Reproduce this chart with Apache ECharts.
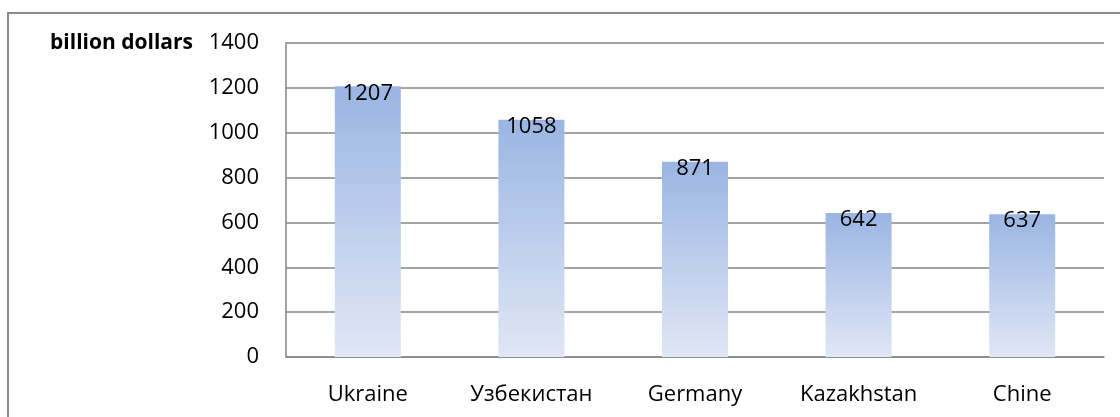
<!DOCTYPE html>
<html>
<head>
<meta charset="utf-8">
<script src="https://cdn.jsdelivr.net/npm/echarts@6/dist/echarts.min.js"></script>
<style>
html,body{margin:0;padding:0;background:#fff;}
#chart{width:1120px;height:417px;}
</style>
</head>
<body>
<div id="chart"></div>
<script>
const categories = ['Ukraine', 'Узбекистан', 'Germany', 'Kazakhstan', 'Chine'];
const values = [1207, 1058, 871, 642, 637];
const yTicks = {min: 0, max: 1400, interval: 200};
const axisName = 'billion dollars';

const chart = echarts.init(document.getElementById('chart'));
const font = 'Open Sans';
chart.setOption({
  animation: false,
  backgroundColor: '#fff',
  graphic: [{
    type: 'rect',
    shape: {x: 8, y: 13, width: 1300, height: 600},
    style: {fill: 'none', stroke: '#8c8c8c', lineWidth: 2},
    silent: true
  }],
  grid: {left: 286, top: 43, right: 16, bottom: 60},
  xAxis: {
    type: 'category',
    data: categories,
    axisLine: {show: true, lineStyle: {color: '#868686', width: 1.5}},
    axisTick: {show: false},
    axisLabel: {color: '#000', fontFamily: font, fontSize: 22, margin: 27}
  },
  yAxis: {
    type: 'value',
    min: yTicks.min, max: yTicks.max, interval: yTicks.interval,
    name: axisName,
    nameLocation: 'end',
    nameGap: 0,
    nameTextStyle: {color: '#000', fontFamily: font, fontSize: 21, fontWeight: 'bold',
      align: 'right', verticalAlign: 'middle', padding: [0, 93, 0, 0]},
    axisLine: {show: true, lineStyle: {color: '#868686', width: 1.5}},
    axisTick: {show: false},
    splitLine: {show: true, lineStyle: {color: '#868686', width: 1.5}},
    axisLabel: {color: '#000', fontFamily: font, fontSize: 22, margin: 27,
      formatter: v => String(v)}
  },
  series: [{
    type: 'bar',
    data: values,
    barWidth: 66,
    itemStyle: {
      color: new echarts.graphic.LinearGradient(0, 0, 0, 1, [
        {offset: 0, color: '#9ab5e3'},
        {offset: 1, color: '#e0e7f5'}
      ])
    },
    label: {
      show: true, position: 'insideTop', distance: 0, offset: [0, -4],
      color: '#000', fontFamily: font, fontSize: 22
    }
  }]
});
</script>
</body>
</html>
